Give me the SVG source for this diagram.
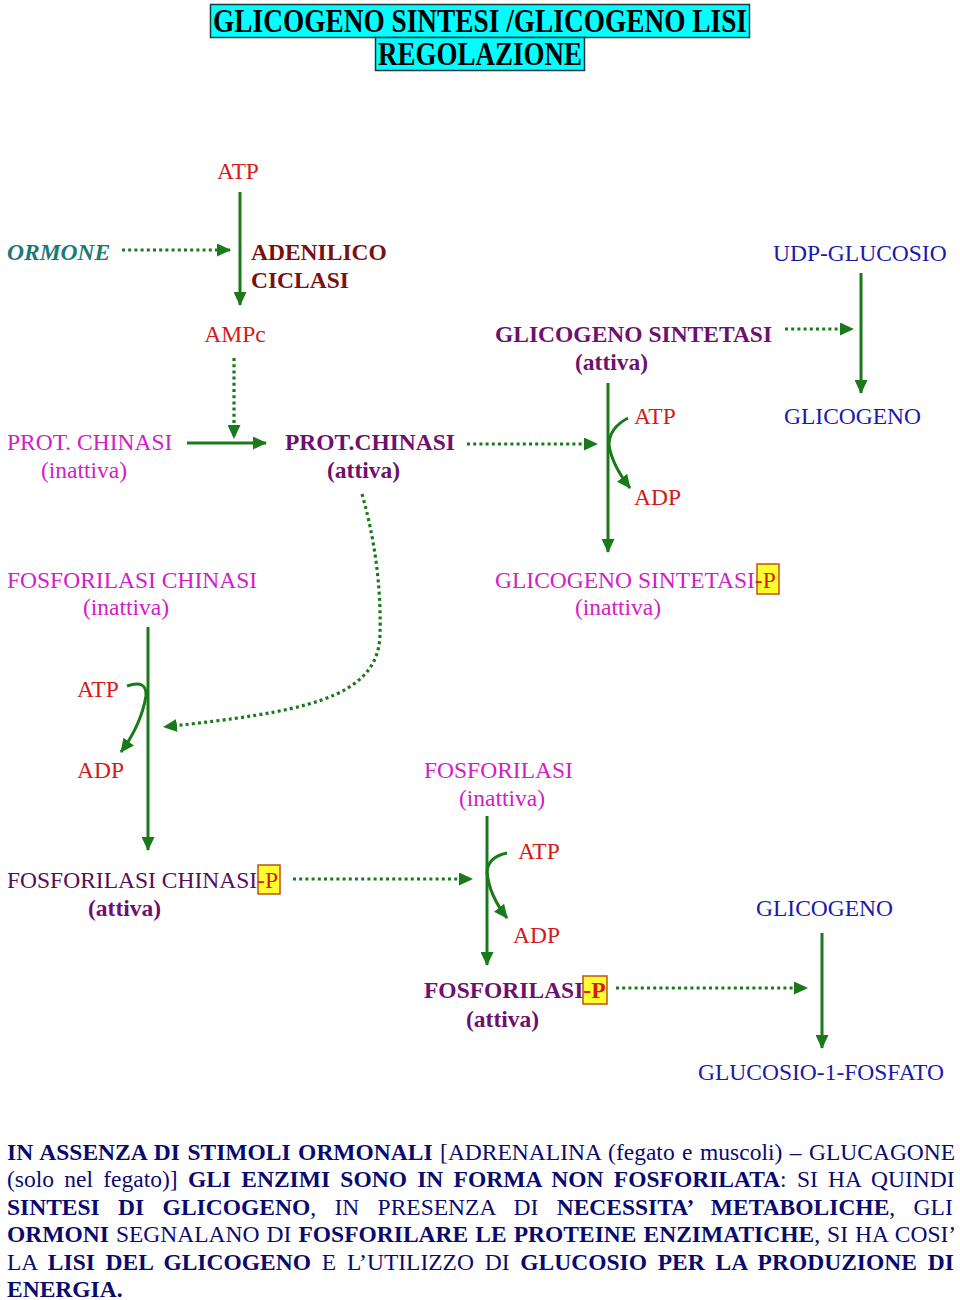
<svg xmlns="http://www.w3.org/2000/svg" width="960" height="1300" viewBox="0 0 960 1300">
<style>
text{font-family:"Liberation Serif","Times New Roman",serif;font-size:23.5px}
.b{font-weight:bold}
.red{fill:#d41a1a}
.mag{fill:#d020c8}
.pur{fill:#6e106e}
.dpur{fill:#5a0a5a}
.blue{fill:#1a1aa8}
.teal{fill:#1a7a78;font-weight:bold;font-style:italic}
.dred{fill:#7a1010;font-weight:bold}
.para{fill:#0a0a6e}
.solid{fill:none;stroke:#1a7a1a;stroke-width:3;marker-end:url(#ah)}
.dot{fill:none;stroke:#1a7a1a;stroke-width:3.2;stroke-dasharray:3 3.2;marker-end:url(#ah)}
.pbox{fill:#ffff30;stroke:#c0501a;stroke-width:1.5}
.tbox{fill:#00ffff;stroke:#1a3a3a;stroke-width:1.5}
.title{font-weight:bold;font-size:33px;fill:#000}
</style>
<defs>
<marker id="ah" markerUnits="userSpaceOnUse" markerWidth="14" markerHeight="13" refX="13" refY="6.5" orient="auto">
<path d="M0,0 L14,6.5 L0,13 Z" fill="#1a7a1a"/>
</marker>
</defs>

<g id="title">
<rect class="tbox" x="210.5" y="4.5" width="539" height="33"/>
<rect class="tbox" x="375.5" y="37.5" width="209" height="33"/>
<text class="title" x="480" y="32" text-anchor="middle" textLength="534" lengthAdjust="spacingAndGlyphs">GLICOGENO SINTESI /GLICOGENO LISI</text>
<text class="title" x="480" y="65" text-anchor="middle" textLength="204" lengthAdjust="spacingAndGlyphs">REGOLAZIONE</text>
</g>

<g id="connectors">
<path class="solid" d="M240,192 V305"/>
<path class="dot" d="M122,250 H230"/>
<path class="dot" d="M234,358 V438"/>
<path class="solid" d="M187,443 H266"/>
<path class="dot" d="M467,444 H597"/>
<path class="solid" d="M608,383 V552"/>
<path class="solid" d="M628,418 Q609,428 609,445 Q612,465 630,488"/>
<path class="dot" d="M785,329 H853"/>
<path class="solid" d="M861,273 V393"/>
<path class="solid" d="M148,627 V850"/>
<path class="solid" d="M127,686 Q147,679 146,696 Q141,725 121,752"/>
<path class="dot" d="M362,494 C378,550 381,600 380,635 C378,700 300,712 164,727"/>
<path class="dot" d="M293,879 H472"/>
<path class="solid" d="M487,816 V965"/>
<path class="solid" d="M507,853 Q488,857 487,872 Q489,895 507,918"/>
<path class="dot" d="M616,988 H807"/>
<path class="solid" d="M822,933 V1048"/>
</g>

<g id="atp1"><text class="red" x="238" y="179" text-anchor="middle">ATP</text></g>
<g id="ormone"><text class="teal" x="7" y="260">ORMONE</text></g>
<g id="adenilico"><text class="dred" x="251" y="260">ADENILICO</text><text class="dred" x="251" y="288">CICLASI</text></g>
<g id="ampc"><text class="red" x="235" y="342" text-anchor="middle">AMPc</text></g>
<g id="protchinasi-in"><text class="mag" x="7" y="450">PROT. CHINASI</text><text class="mag" x="41" y="478">(inattiva)</text></g>
<g id="protchinasi-att"><text class="pur b" x="285" y="450">PROT.CHINASI</text><text class="pur b" x="327" y="478">(attiva)</text></g>
<g id="gsint-att"><text class="pur b" x="495" y="342">GLICOGENO SINTETASI</text><text class="pur b" x="575" y="370">(attiva)</text></g>
<g id="udpglu"><text class="blue" x="773" y="261">UDP-GLUCOSIO</text></g>
<g id="glicogeno1"><text class="blue" x="784" y="424">GLICOGENO</text></g>
<g id="atp2"><text class="red" x="634" y="424">ATP</text><text class="red" x="634" y="505">ADP</text></g>
<g id="fchin-in"><text class="mag" x="7" y="588">FOSFORILASI CHINASI</text><text class="mag" x="83" y="615">(inattiva)</text></g>
<g id="gsint-p">
<rect class="pbox" x="757" y="564" width="22" height="30"/>
<text class="mag" x="495" y="588">GLICOGENO SINTETASI<tspan class="red">-P</tspan></text>
<text class="mag" x="575" y="615">(inattiva)</text>
</g>
<g id="atp3"><text class="red" x="77" y="697">ATP</text><text class="red" x="77" y="778">ADP</text></g>
<g id="fosf-in"><text class="mag" x="424" y="778">FOSFORILASI</text><text class="mag" x="459" y="806">(inattiva)</text></g>
<g id="fchin-p">
<rect class="pbox" x="258" y="865" width="22" height="29"/>
<text class="dpur" x="7" y="888">FOSFORILASI CHINASI<tspan class="red">-P</tspan></text>
<text class="pur b" x="88" y="916">(attiva)</text>
</g>
<g id="atp4"><text class="red" x="518" y="859">ATP</text><text class="red" x="513" y="943">ADP</text></g>
<g id="fosf-p">
<rect class="pbox" x="583" y="976" width="24" height="28"/>
<text class="pur b" x="424" y="998">FOSFORILASI<tspan class="red">-P</tspan></text>
<text class="pur b" x="466" y="1027">(attiva)</text>
</g>
<g id="glicogeno2"><text class="blue" x="756" y="916">GLICOGENO</text></g>
<g id="g1p"><text class="blue" x="698" y="1080">GLUCOSIO-1-FOSFATO</text></g>

<g id="paragraph" class="para">
<text class="para" x="7" y="1160" word-spacing="1.6"><tspan class="b">IN ASSENZA DI STIMOLI ORMONALI </tspan>[ADRENALINA (fegato e muscoli) – GLUCAGONE</text>
<text class="para" x="7" y="1187.4" word-spacing="4.4">(solo nel fegato)] <tspan class="b">GLI ENZIMI SONO IN FORMA NON FOSFORILATA</tspan>: SI HA QUINDI</text>
<text class="para" x="7" y="1214.8" word-spacing="12.5"><tspan class="b">SINTESI DI GLICOGENO</tspan>, IN PRESENZA DI <tspan class="b">NECESSITA’ METABOLICHE</tspan>, GLI</text>
<text class="para" x="7" y="1242.2" word-spacing="1.2"><tspan class="b">ORMONI</tspan> SEGNALANO DI <tspan class="b">FOSFORILARE LE PROTEINE ENZIMATICHE</tspan>, SI HA COSI’</text>
<text class="para" x="7" y="1269.6" word-spacing="4.9">LA <tspan class="b">LISI DEL GLICOGENO</tspan> E L’UTILIZZO DI <tspan class="b">GLUCOSIO PER LA PRODUZIONE DI</tspan></text>
<text class="para b" x="7" y="1297">ENERGIA.</text>
</g>
</svg>
